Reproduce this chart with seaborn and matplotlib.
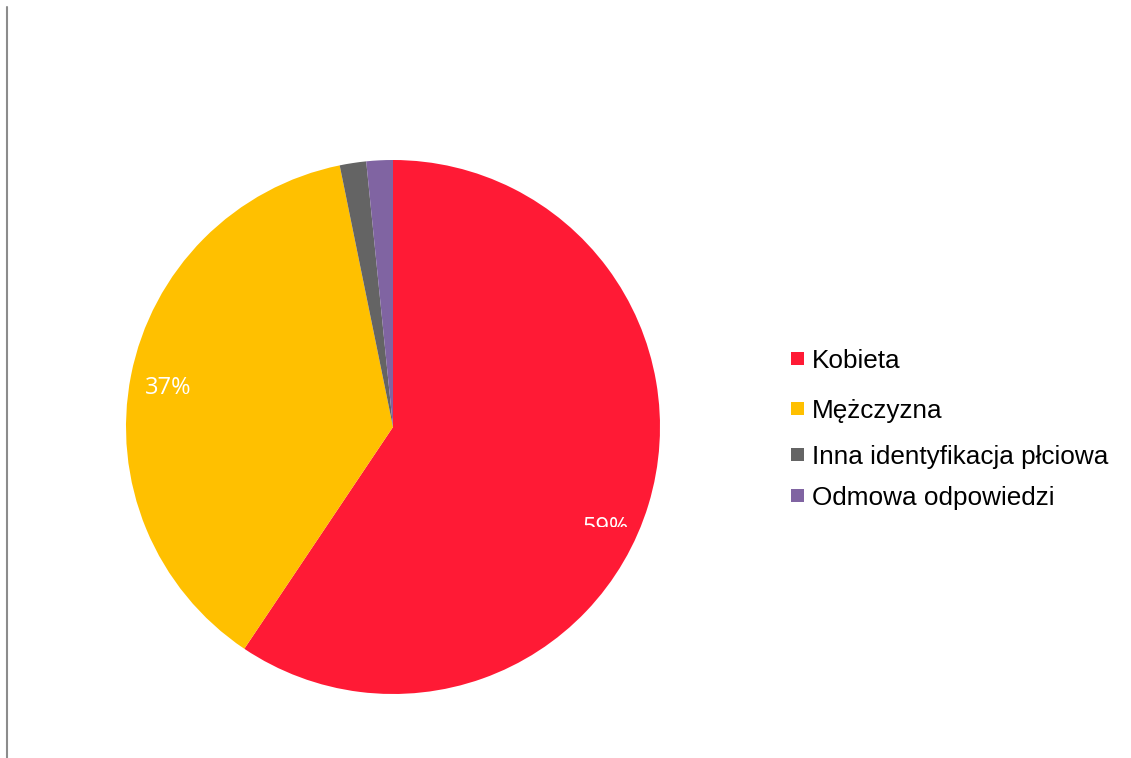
import matplotlib
matplotlib.use("Agg", force=True)
import matplotlib.pyplot as plt
from matplotlib.patches import Rectangle
from matplotlib.lines import Line2D
from matplotlib.transforms import Bbox
import seaborn as sns

CATEGORIES = ["Kobieta", "Mężczyzna", "Inna identyfikacja płciowa", "Odmowa odpowiedzi"]
SHARES = [59.4, 37.4, 1.6, 1.6]
LABELS = ["59%", "37%", "", ""]
COLORS = ["#FF1A35", "#FFC000", "#646464", "#8064A2"]

W, H = 1131, 758

sns.set_theme(style="white")
plt.rcParams["font.family"] = ["Liberation Sans", "DejaVu Sans"]

fig = plt.figure(figsize=(W / 100, H / 100), dpi=100)
fig.patch.set_facecolor("white")

# pie centre (393, 427) px, radius 267 px
cx, cy, r = 393, 427, 267
ax = fig.add_axes([(cx - r) / W, (H - cy - r) / H, 2 * r / W, 2 * r / H])
wedges, _ = ax.pie(
    SHARES,
    colors=sns.color_palette(COLORS),
    startangle=90,
    counterclock=False,
    radius=1.0,
    wedgeprops={"linewidth": 0},
)
ax.set_xlim(-1, 1)
ax.set_ylim(-1, 1)
ax.set_aspect("equal")
ax.axis("off")

# data labels (px positions of label centres)
label_pos = [(606, 528), (168, 388)]
for text, (px, py) in zip(LABELS[:2], label_pos):
    t = fig.text(px / W, 1 - py / H, text, color="white", fontsize=17,
                 ha="center", va="center", family=["Open Sans", "DejaVu Sans"])
    if text == "59%":
        # reference shows this label cut off at its lower half
        t.set_clip_box(Bbox.from_extents(0, H - 527, W, H))
        t.set_clip_on(True)

# legend drawn by hand to keep uneven row spacing
rows_y = [361, 411, 457, 498]
for name, col, y in zip(CATEGORIES, COLORS, rows_y):
    fig.patches.append(Rectangle((791 / W, (H - y - 4) / H), 13 / W, 13 / H,
                                 transform=fig.transFigure, facecolor=col,
                                 edgecolor="none"))
    fig.text(812 / W, 1 - y / H, name, fontsize=18.8, color="black",
             ha="left", va="center")

# thin grey rule on the left edge
fig.add_artist(Line2D([7 / W, 7 / W], [0, 1 - 7 / H], transform=fig.transFigure,
                      color="#8C8C8C", linewidth=1.5))

fig.savefig("out.png", dpi=100)
